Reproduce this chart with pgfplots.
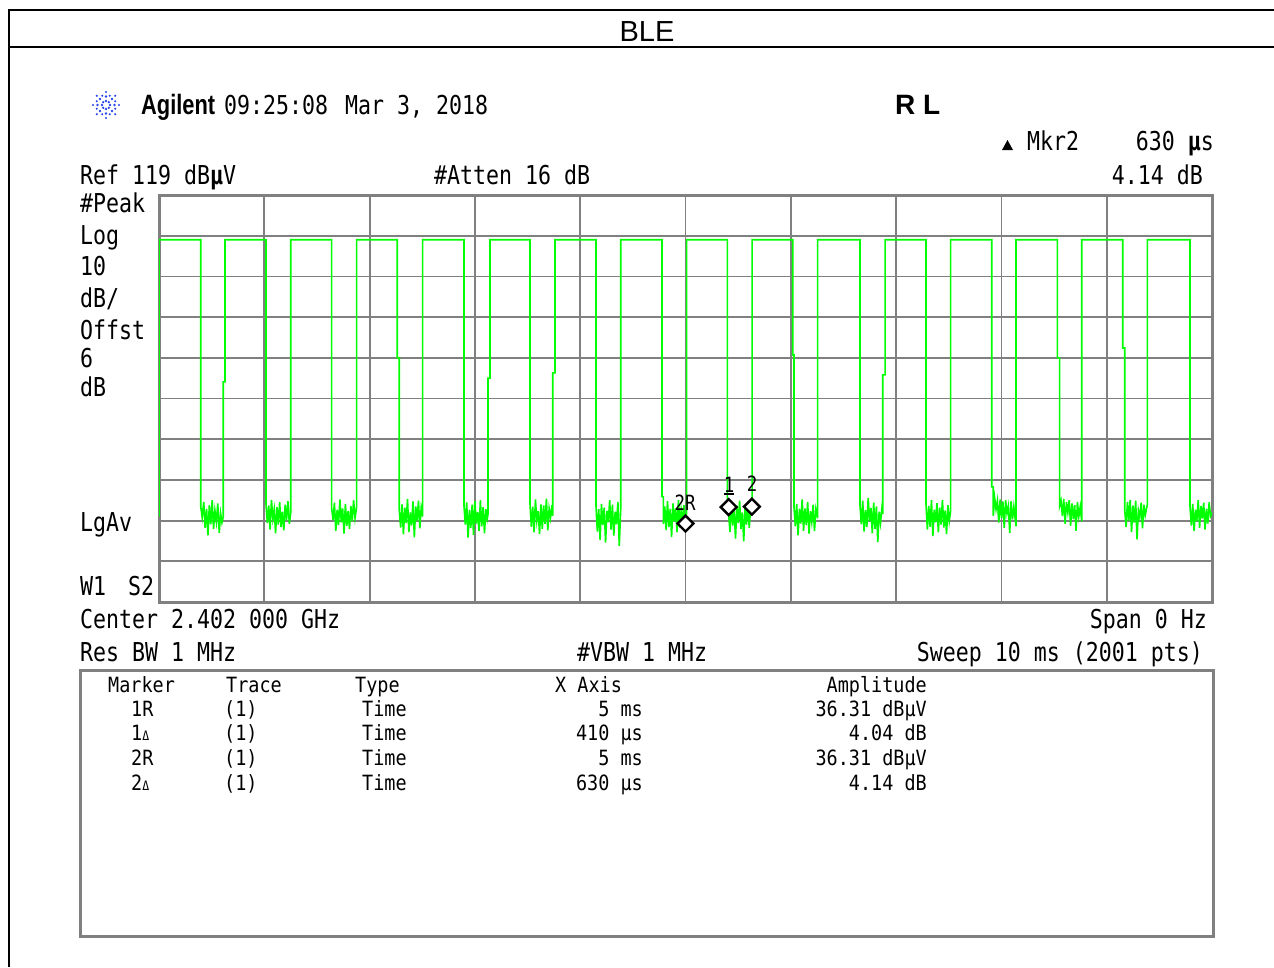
\documentclass[border=0pt]{standalone}
\usepackage{pgfplots}
\usepackage{pgfplotstable}
\pgfplotsset{compat=1.18}
\usepackage{fontspec}
\setmainfont{DejaVu Sans Mono}
\newfontfamily\scr[FakeStretch=0.83]{DejaVu Sans Mono}
\newfontfamily\scrt[FakeStretch=0.88]{DejaVu Sans Mono}
\newfontfamily\arial{Liberation Sans}
\newfontfamily\agil[FakeStretch=0.78]{Liberation Sans}
\definecolor{gridgray}{RGB}{128,128,128}
\definecolor{tracegreen}{RGB}{0,255,0}
\definecolor{logoblue}{RGB}{40,70,235}

\pgfplotstableread{
x y
0.000 40.0
0.000 108
0.396 108
0.396 42.5
0.410 39.8
0.425 43.6
0.438 37.2
0.452 41.9
0.465 35.4
0.478 42.8
0.492 38.1
0.505 44.0
0.518 36.9
0.531 41.5
0.545 38.7
0.558 43.2
0.572 36.0
0.585 40.8
0.598 38.5
0.610 39.9
0.610 73.1
0.627 73.1
0.627 108
1.016 108
1.016 43.1
1.029 38.4
1.042 42.7
1.055 36.8
1.068 44.1
1.081 39.5
1.094 41.8
1.107 35.9
1.120 42.3
1.133 38.0
1.146 43.5
1.159 37.4
1.172 41.2
1.185 36.6
1.198 42.9
1.211 39.1
1.224 43.8
1.238 38.2
1.251 41.0
1.251 108
1.640 108
1.640 42.0
1.653 39.2
1.666 43.4
1.679 36.5
1.692 41.7
1.705 37.9
1.718 44.2
1.731 38.6
1.744 42.0
1.757 35.8
1.770 43.1
1.783 37.7
1.796 41.4
1.809 36.9
1.822 42.6
1.835 38.8
1.848 44.0
1.862 39.6
1.877 42.4
1.877 108
2.263 108
2.263 79.0
2.282 79.0
2.282 41.5
2.295 37.3
2.308 43.0
2.321 35.6
2.334 42.2
2.347 38.4
2.360 44.3
2.373 36.2
2.386 41.0
2.399 37.8
2.412 43.7
2.425 34.9
2.438 42.5
2.451 39.0
2.464 43.9
2.477 37.1
2.490 42.1
2.504 40.0
2.504 108
2.896 108
2.896 42.8
2.909 38.0
2.922 43.5
2.935 34.8
2.948 41.6
2.961 37.2
2.974 42.9
2.987 35.5
3.000 43.8
3.013 38.3
3.026 41.1
3.039 36.4
3.052 44.0
3.065 37.6
3.078 42.3
3.091 35.9
3.104 41.8
3.117 39.4
3.124 40.5
3.124 74.0
3.143 74.0
3.143 108
3.523 108
3.523 43.2
3.536 37.5
3.549 42.4
3.562 36.1
3.575 44.2
3.588 38.9
3.601 41.3
3.614 35.7
3.627 43.0
3.640 37.0
3.653 42.7
3.666 38.2
3.679 44.4
3.692 36.6
3.705 41.9
3.718 39.7
3.731 42.8
3.739 40.2
3.739 75.3
3.761 75.3
3.761 108
4.150 108
4.150 42.6
4.163 36.3
4.176 41.8
4.189 34.2
4.202 43.1
4.215 37.9
4.228 42.2
4.241 33.6
4.254 41.4
4.267 38.6
4.280 44.0
4.293 36.8
4.306 42.9
4.319 35.3
4.332 41.2
4.345 38.1
4.358 43.6
4.371 32.8
4.385 42.0
4.385 108
4.777 108
4.777 44.9
4.790 44.9
4.790 38.2
4.803 42.5
4.816 36.7
4.829 43.8
4.842 37.4
4.855 41.9
4.868 35.0
4.881 43.2
4.894 38.8
4.907 42.0
4.920 36.1
4.933 44.1
4.946 37.3
4.959 41.6
4.972 38.9
4.985 42.8
5.000 36.31
5.011 41.5
5.011 108
5.397 108
5.397 42.0
5.410 40.35
5.423 36.2
5.436 43.4
5.449 37.8
5.462 41.5
5.475 34.6
5.488 42.7
5.501 38.4
5.514 43.9
5.527 36.9
5.540 41.0
5.553 33.9
5.566 42.3
5.579 38.0
5.592 43.5
5.605 37.2
5.618 42.0
5.630 40.45
5.632 40.45
5.632 108
6.018 108
6.018 79.7
6.030 79.7
6.030 42.4
6.043 37.6
6.056 43.1
6.069 35.4
6.082 41.9
6.095 38.3
6.108 44.2
6.121 36.5
6.134 42.0
6.147 37.9
6.160 43.6
6.173 35.8
6.186 41.3
6.199 38.7
6.212 42.9
6.225 36.4
6.238 41.8
6.255 39.6
6.255 108
6.657 108
6.657 42.7
6.670 38.1
6.683 43.9
6.696 36.3
6.709 41.6
6.722 37.4
6.735 44.6
6.748 38.8
6.761 42.1
6.774 35.9
6.787 43.4
6.800 37.0
6.813 42.5
6.826 33.7
6.839 41.2
6.852 38.4
6.865 42.0
6.873 40.6
6.873 74.8
6.895 74.8
6.895 108
7.284 108
7.284 43.0
7.297 36.8
7.310 42.6
7.323 37.5
7.336 44.0
7.349 35.2
7.362 41.7
7.375 38.6
7.388 43.3
7.401 36.1
7.414 42.2
7.427 38.0
7.440 44.1
7.453 37.3
7.466 41.5
7.479 35.7
7.492 42.8
7.505 38.9
7.518 41.4
7.518 108
7.908 108
7.908 47.3
7.923 47.3
7.923 40.2
7.936 44.5
7.949 41.8
7.962 43.9
7.975 38.5
7.988 44.2
8.001 39.6
8.014 43.7
8.027 37.2
8.040 44.0
8.053 40.8
8.066 42.6
8.079 36.0
8.092 43.8
8.105 39.3
8.118 42.4
8.139 37.6
8.139 108
8.531 108
8.531 79.0
8.553 79.0
8.553 42.6
8.566 43.9
8.579 40.1
8.592 44.3
8.605 38.2
8.618 43.5
8.631 41.0
8.644 44.0
8.657 37.7
8.670 43.2
8.683 39.4
8.696 42.8
8.709 36.5
8.722 43.6
8.735 40.0
8.748 42.3
8.763 38.8
8.763 108
9.152 108
9.152 81.4
9.171 81.4
9.171 41.8
9.184 37.4
9.197 43.6
9.210 39.0
9.223 44.1
9.236 36.2
9.249 42.7
9.262 38.5
9.275 43.9
9.288 34.4
9.301 41.5
9.314 39.8
9.327 43.4
9.340 37.1
9.353 42.9
9.366 40.3
9.386 43.0
9.386 108
9.791 108
9.791 42.5
9.804 37.8
9.817 43.1
9.830 36.4
9.843 41.7
9.856 38.9
9.869 44.0
9.882 37.2
9.895 42.6
9.908 39.5
9.921 43.4
9.934 36.8
9.947 41.9
9.960 38.3
9.973 43.5
9.986 40.1
10.000 41.0
}\trace

\begin{document}
\begin{tikzpicture}
\begin{scope}[x=1pt,y=-1pt]
\path[use as bounding box] (0,0) rectangle (1274,967);
% outer table frame
\draw[line width=2pt] (8,10) -- (1274,10);
\draw[line width=2pt] (8,47) -- (1274,47);
\draw[line width=2pt] (9,9) -- (9,967);
\node[font=\arial\fontsize{29}{29}\selectfont, anchor=base] at (647,41) {BLE};
% logo
\foreach \a in {0,45,...,315} {
  \fill[logoblue] (106,105) ++(\a:4) circle (1.3);
  \fill[logoblue] (106,105) ++(\a:8.5) circle (1.3);
  \fill[logoblue] (106,105) ++(\a:13) circle (1.2);
}
\foreach \a in {22.5,67.5,...,337.5} {
  \fill[logoblue] (106,105) ++(\a:10) circle (1.1);
}
\node[font=\agil\bfseries\fontsize{28}{28}\selectfont, anchor=base west, inner sep=0pt] at (141,114) {Agilent};
\node[font=\scr\fontsize{26}{26}\selectfont, anchor=base west, inner sep=0pt] at (224,114) {09:25:08};
\node[font=\scr\fontsize{26}{26}\selectfont, anchor=base west, inner sep=0pt] at (345,114) {Mar 3, 2018};
\node[font=\arial\bfseries\fontsize{28}{28}\selectfont, anchor=base west, inner sep=0pt] at (895,114) {R L};
\fill (1002,150) -- (1013,150) -- (1007.5,140) -- cycle;
\node[font=\scr\fontsize{26}{26}\selectfont, anchor=base west, inner sep=0pt] at (1027,150) {Mkr2};
\node[font=\scr\fontsize{26}{26}\selectfont, anchor=base east, inner sep=0pt] at (1214,150) {630 {\bfseries µ}s};
\node[font=\scr\fontsize{26}{26}\selectfont, anchor=base west, inner sep=0pt] at (80,184) {Ref 119 dB{\bfseries µ}V};
\node[font=\scr\fontsize{26}{26}\selectfont, anchor=base west, inner sep=0pt] at (434,184) {\#Atten 16 dB};
\node[font=\scr\fontsize{26}{26}\selectfont, anchor=base east, inner sep=0pt] at (1203,184) {4.14 dB};
% left side labels
\foreach \t/\yy in {\#Peak/212, Log/244, 10/275, Offst/339, 6/367, dB/396, LgAv/531} {
  \node[font=\scr\fontsize{26}{26}\selectfont, anchor=base west, inner sep=0pt] at (80,\yy) {\t};
}
\node[font=\scr\fontsize{26}{26}\selectfont, anchor=base west, inner sep=0pt] at (80,307) {dB/};
\node[font=\scr\fontsize{26}{26}\selectfont, anchor=base west, inner sep=0pt] at (80,595) {W1};
\node[font=\scr\fontsize{26}{26}\selectfont, anchor=base west, inner sep=0pt] at (128,595) {S2};
\node[font=\scr\fontsize{26}{26}\selectfont, anchor=base west, inner sep=0pt] at (80,628) {Center 2.402 000 GHz};
\node[font=\scr\fontsize{26}{26}\selectfont, anchor=base east, inner sep=0pt] at (1207,628) {Span 0 Hz};
\node[font=\scr\fontsize{26}{26}\selectfont, anchor=base west, inner sep=0pt] at (80,661) {Res BW 1 MHz};
\node[font=\scr\fontsize{26}{26}\selectfont, anchor=base west, inner sep=0pt] at (577,661) {\#VBW 1 MHz};
\node[font=\scr\fontsize{26}{26}\selectfont, anchor=base east, inner sep=0pt] at (1203,661) {Sweep 10 ms (2001 pts)};
% marker table
\draw[gridgray, line width=3pt] (80,670) rectangle (1213,936);
\begin{scope}[every node/.style={font=\scrt\fontsize{21}{21}\selectfont, inner sep=0pt}]
\node[anchor=base west] at (108,692) {Marker};
\node[anchor=base west] at (226,692) {Trace};
\node[anchor=base west] at (355,692) {Type};
\node[anchor=base west] at (555,692) {X Axis};
\node[anchor=base east] at (927,692) {Amplitude};
\node[anchor=base west] at (131,716) {1R};
\node[anchor=base west] at (131,740) {1{\fontsize{13}{13}\selectfont Δ}};
\node[anchor=base west] at (131,765) {2R};
\node[anchor=base west] at (131,790) {2{\fontsize{13}{13}\selectfont Δ}};
\foreach \yy in {716,740,765,790} {
  \node[anchor=base west] at (224,\yy) {(1)};
  \node[anchor=base west] at (362,\yy) {Time};
}
\node[anchor=base east] at (643,716) {5 ms};
\node[anchor=base east] at (643,740) {410 µs};
\node[anchor=base east] at (643,765) {5 ms};
\node[anchor=base east] at (643,790) {630 µs};
\node[anchor=base east] at (927,716) {36.31 dBµV};
\node[anchor=base east] at (927,740) {4.04 dB};
\node[anchor=base east] at (927,765) {36.31 dBµV};
\node[anchor=base east] at (927,790) {4.14 dB};
\end{scope}
\end{scope}

\begin{axis}[
  at={(159pt,-602pt)}, anchor=south west,
  scale only axis, width=1053pt, height=407pt,
  xmin=0, xmax=10, ymin=19, ymax=119,
  xtick={0,1,...,10}, ytick={19,29,...,119},
  xticklabels={}, yticklabels={},
  major tick length=0pt,
  grid=major,
  major grid style={draw=gridgray, line width=1.8pt},
  axis line style={draw=gridgray, line width=3pt},
]
\addplot[color=tracegreen, line width=1.6pt, mark=none] table[x=x,y=y] {\trace};
\addplot[only marks, mark=square*, mark size=5.6pt,
  mark options={draw=black, fill=white, line width=2.4pt, yshift=8pt, rotate=45}]
  coordinates {(5,36.31) (5.41,40.35) (5.63,40.45)};
\end{axis}

\begin{scope}[x=1pt,y=-1pt]
\node[font=\scr\fontsize{21}{21}\selectfont, anchor=base, inner sep=0pt] at (685,510) {2R};
\node[font=\scr\fontsize{21}{21}\selectfont, anchor=base, inner sep=0pt] at (729,492) {1};
\draw[line width=1.4pt] (724,494) -- (734,494);
\node[font=\scr\fontsize{21}{21}\selectfont, anchor=base, inner sep=0pt] at (752,491) {2};
\end{scope}
\end{tikzpicture}
\end{document}
